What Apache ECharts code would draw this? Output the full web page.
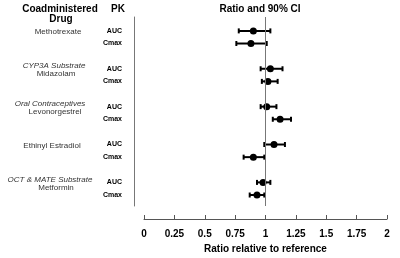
<!DOCTYPE html>
<html>
<head>
<meta charset="utf-8">
<script src="https://cdn.jsdelivr.net/npm/echarts@6/dist/echarts.min.js"></script>
<style>
  html, body { margin: 0; padding: 0; background: #fff; }
  #chart { width: 400px; height: 258px; }
</style>
</head>
<body>
<div id="chart"></div>
<script>
// one group per coadministered drug, two PK rows each (AUC, Cmax)
const groupNames = ['', 'CYP3A Substrate', 'Oral Contraceptives', '', 'OCT & MATE Substrate'];
const drugNames = ['Methotrexate', 'Midazolam', 'Levonorgestrel', 'Ethinyl Estradiol', 'Metformin'];
const pkParams = ['AUC', 'Cmax'];

// ratio and 90% CI, in row order (AUC, Cmax per drug)
const ratio = [0.90, 0.88, 1.04, 1.02, 1.01, 1.12, 1.07, 0.90, 0.98, 0.93];
const ciLow = [0.78, 0.76, 0.96, 0.97, 0.96, 1.06, 0.99, 0.82, 0.93, 0.87];
const ciHigh = [1.04, 1.01, 1.14, 1.10, 1.09, 1.21, 1.16, 0.99, 1.04, 0.99];

const xTicks = [0, 0.25, 0.5, 0.75, 1, 1.25, 1.5, 1.75, 2];

// row slot: 3 per group (AUC, Cmax, gap)
const slotOf = (i) => Math.floor(i / 2) * 3 + (i % 2);

const pointData = ratio.map((v, i) => [v, slotOf(i)]);
const barData = ratio.map((v, i) => [slotOf(i), ciLow[i], ciHigh[i]]);

const chart = echarts.init(document.getElementById('chart'));

const option = {
  animation: false,
  grid: { left: 144, right: 13, top: 17, bottom: 52, outerBoundsMode: 'none' },
  xAxis: {
    type: 'value',
    position: 'bottom',
    min: xTicks[0],
    max: xTicks[xTicks.length - 1],
    interval: 0.25,
    offset: 13,
    splitLine: { show: false },
    axisLine: { show: true, onZero: false, lineStyle: { color: '#555', width: 1 } },
    axisTick: { show: true, inside: true, length: 4, lineStyle: { color: '#555' } },
    axisLabel: {
      color: '#000', fontWeight: 'bold', fontSize: 10, margin: 10,
      fontFamily: 'Liberation Sans'
    },
    name: 'Ratio relative to reference',
    nameLocation: 'middle',
    nameGap: 25,
    nameTextStyle: { color: '#000', fontWeight: 'bold', fontSize: 10, fontFamily: 'Liberation Sans' }
  },
  yAxis: {
    type: 'value',
    position: 'left',
    inverse: true,
    min: -1.1,
    max: 13.87,
    offset: 10,
    splitLine: { show: false },
    axisLine: { show: true, onZero: false, lineStyle: { color: '#777', width: 1 } },
    axisTick: { show: false },
    axisLabel: { show: false }
  },
  series: [
    {
      type: 'custom',
      data: barData,
      z: 3,
      renderItem: function (params, api) {
        const y = api.value(0);
        const p0 = api.coord([api.value(1), y]);
        const p1 = api.coord([api.value(2), y]);
        const h = 2.5;
        const style = { stroke: '#000', lineWidth: 2 };
        return {
          type: 'group',
          children: [
            { type: 'line', shape: { x1: p0[0], y1: p0[1], x2: p1[0], y2: p1[1] }, style: style },
            { type: 'line', shape: { x1: p0[0], y1: p0[1] - h, x2: p0[0], y2: p0[1] + h }, style: style },
            { type: 'line', shape: { x1: p1[0], y1: p1[1] - h, x2: p1[0], y2: p1[1] + h }, style: style }
          ]
        };
      }
    },
    {
      type: 'scatter',
      data: pointData,
      symbolSize: 7,
      z: 4,
      itemStyle: { color: '#000', opacity: 1 },
      markLine: {
        silent: true,
        symbol: 'none',
        label: { show: false },
        lineStyle: { color: '#777', width: 1, type: 'solid' },
        data: [{ xAxis: 1 }]
      }
    }
  ]
};

chart.setOption(option);

// left-hand text columns, placed at the rows' pixel positions
const font = 'Liberation Sans';
const texts = [
  { x: 60, y: 9, text: 'Coadministered', bold: true, size: 10 },
  { x: 61, y: 19, text: 'Drug', bold: true, size: 10 },
  { x: 118, y: 9, text: 'PK', bold: true, size: 10 },
  { x: 260, y: 9, text: 'Ratio and 90% CI', bold: true, size: 10 }
];
const nameX = [58, 56, 55, 52, 56];
const groupX = [0, 54, 50, 0, 50];
drugNames.forEach((d, g) => {
  const yAuc = chart.convertToPixel({ gridIndex: 0 }, [1, g * 3])[1];
  if (groupNames[g]) {
    texts.push({ x: groupX[g], y: yAuc - 3, text: groupNames[g], italic: true, size: 8, color: '#333' });
    texts.push({ x: nameX[g], y: yAuc + 5, text: d, size: 8, color: '#333' });
  } else {
    texts.push({ x: nameX[g], y: yAuc + 1, text: d, size: 8, color: '#333' });
  }
  pkParams.forEach((pk, r) => {
    const yy = chart.convertToPixel({ gridIndex: 0 }, [1, g * 3 + r])[1];
    texts.push({ x: 122, y: yy, text: pk, bold: true, size: 7, align: 'right' });
  });
});

chart.setOption({
  graphic: texts.map(t => ({
    type: 'text',
    x: t.x,
    y: t.y,
    silent: true,
    style: {
      text: t.text,
      fill: t.color || '#000',
      font: (t.italic ? 'italic ' : '') + (t.bold ? 'bold ' : '') + t.size + 'px "' + font + '"',
      textAlign: t.align || 'center',
      textVerticalAlign: 'middle'
    }
  }))
});
</script>
</body>
</html>
